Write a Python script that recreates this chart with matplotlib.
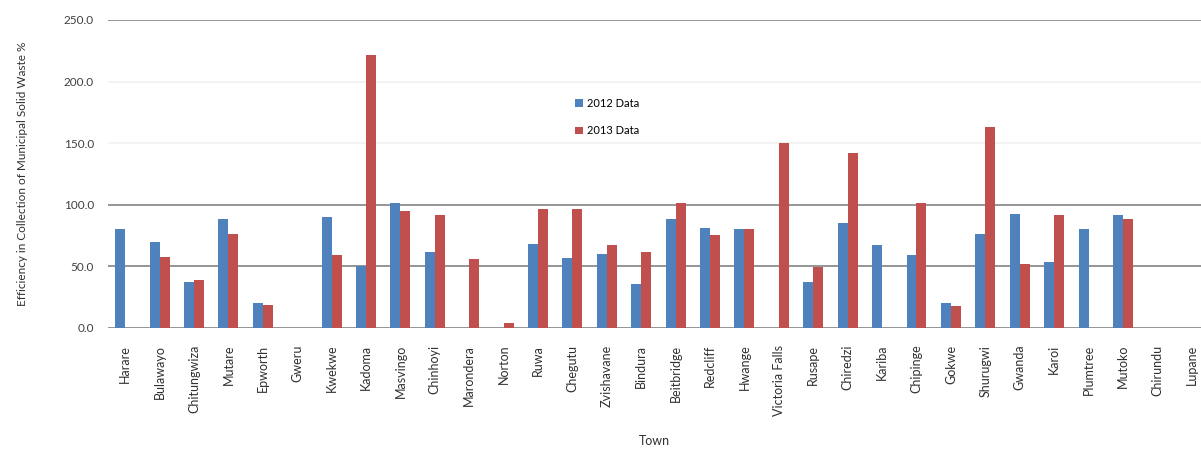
import matplotlib
matplotlib.use('Agg')
import matplotlib.pyplot as plt
import numpy as np

towns = ['Harare', 'Bulawayo', 'Chitungwiza', 'Mutare', 'Epworth', 'Gweru', 'Kwekwe',
         'Kadoma', 'Masvingo', 'Chinhoyi', 'Marondera', 'Norton', 'Ruwa', 'Chegutu',
         'Zvishavane', 'Bindura', 'Beitbridge', 'Redcliff', 'Hwange', 'Victoria Falls',
         'Rusape', 'Chiredzi', 'Kariba', 'Chipinge', 'Gokwe', 'Shurugwi', 'Gwanda',
         'Karoi', 'Plumtree', 'Mutoko', 'Chirundu', 'Lupane']

data_2012 = [80.1, 70.1, 37.5, 88.2, 20.2, 0, 90.1,
             50.4, 101.1, 62.0, 0, 0, 68.5, 57.2,
             60.4, 36.1, 88.2, 81.4, 80.1, 0,
             37.5, 85.0, 67.2, 59.1, 20.0, 76.6, 92.8,
             53.9, 80.1, 91.4, 0, 0]

data_2013 = [0, 57.7, 39.1, 76.6, 18.6, 0, 59.1,
             221.7, 94.9, 91.4, 55.8, 4.0, 96.3, 96.3,
             67.2, 62.0, 101.1, 75.2, 80.1, 150.2,
             49.6, 142.1, 0, 101.1, 18.1, 163.2, 52.3,
             91.4, 0, 88.2, 0, 0]

yticks = [0, 50, 100, 150, 200, 250]

BLUE = '#4F81BD'
RED = '#C0504D'

plt.rcParams['font.family'] = ['Lato', 'DejaVu Sans']

fig = plt.figure(figsize=(12.01, 4.53), dpi=100)
ax = fig.add_axes([108 / 1201, (453 - 328) / 453, 1 - 108 / 1201, (328 - 20) / 453])

x = np.arange(len(towns))
w = 0.29
ax.bar(x - w / 2, data_2012, w, color=BLUE, label='2012 Data', zorder=3)
ax.bar(x + w / 2, data_2013, w, color=RED, label='2013 Data', zorder=3)

# only the lower lines and the top one show clearly in the original
for v in yticks:
    c = '#8c8c8c' if v in (0, 50, 100, 250) else '#f2f2f2'
    ax.axhline(v, color=c, lw=1.3, zorder=1)

ax.set_ylim(0, 250)
ax.set_xlim(-0.5, 31.27)
ax.set_yticks(yticks)
ax.set_yticklabels(['%.1f' % v for v in yticks], fontsize=8.5, color='#404040')
ax.set_xticks(x)
ax.set_xticklabels(towns, rotation=90, fontsize=9, color='#303030')
ax.tick_params(axis='x', length=0, pad=12)
ax.tick_params(axis='y', length=0, pad=10)
for s in ax.spines.values():
    s.set_visible(False)

ax.set_xlabel('Town', fontsize=9, color='#303030', labelpad=14)
ax.set_ylabel('Efficiency in Collection of Municipal Solid Waste %', fontsize=8.5,
              color='#303030', labelpad=26)

ax.legend(loc='upper left', bbox_to_anchor=(0.418, 0.78), frameon=False, fontsize=8,
          handlelength=0.7, handleheight=0.7, handletextpad=0.4, labelspacing=1.5)

fig.savefig('out.png', dpi=100)
